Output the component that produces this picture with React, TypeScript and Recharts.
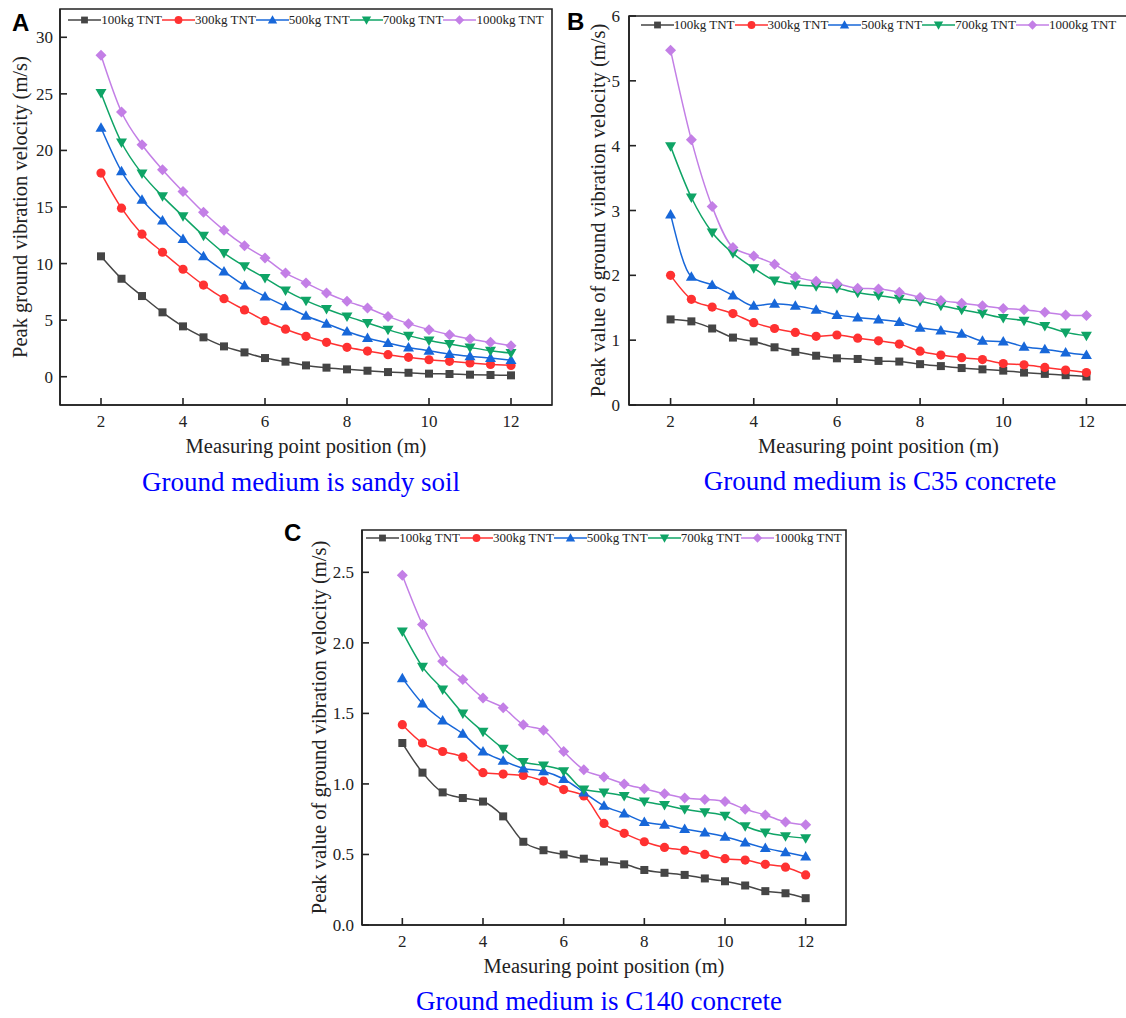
import React from "react";
import { LineChart, Line, XAxis, YAxis, Legend, ReferenceArea } from "recharts";

// measuring point positions (m)
const positions = [2, 2.5, 3, 3.5, 4, 4.5, 5, 5.5, 6, 6.5, 7, 7.5, 8, 8.5, 9, 9.5, 10, 10.5, 11, 11.5, 12];
const charges = ["100kg TNT", "300kg TNT", "500kg TNT", "700kg TNT", "1000kg TNT"];
const colors = ["#454545", "#ff3131", "#1767d9", "#0fa466", "#c37fe6"];
const shapes = ["square", "circle", "up", "down", "diamond"];
const xTicks = [2, 4, 6, 8, 10, 12];

// A: sandy soil
const sand100 = [10.64, 8.66, 7.13, 5.69, 4.45, 3.48, 2.68, 2.15, 1.65, 1.33, 1.0, 0.8, 0.65, 0.53, 0.41, 0.35, 0.27, 0.24, 0.18, 0.15, 0.12];
const sand300 = [18.0, 14.9, 12.6, 11.0, 9.5, 8.1, 6.9, 5.9, 4.95, 4.2, 3.57, 3.04, 2.6, 2.27, 1.95, 1.71, 1.5, 1.36, 1.21, 1.09, 1.0];
const sand500 = [22.0, 18.15, 15.65, 13.8, 12.17, 10.64, 9.31, 8.07, 7.1, 6.22, 5.39, 4.69, 4.0, 3.42, 2.98, 2.59, 2.3, 2.0, 1.8, 1.65, 1.47];
const sand700 = [25.08, 20.7, 17.95, 15.94, 14.18, 12.47, 10.93, 9.76, 8.72, 7.63, 6.72, 5.98, 5.33, 4.75, 4.16, 3.63, 3.21, 2.89, 2.59, 2.3, 2.09];
const sand1000 = [28.41, 23.4, 20.5, 18.3, 16.36, 14.53, 12.94, 11.58, 10.49, 9.17, 8.28, 7.4, 6.66, 6.07, 5.33, 4.69, 4.16, 3.71, 3.33, 3.04, 2.74];

// B: C35 concrete
const c35_100 = [1.32, 1.29, 1.18, 1.04, 0.98, 0.89, 0.82, 0.76, 0.72, 0.71, 0.68, 0.67, 0.63, 0.6, 0.57, 0.55, 0.53, 0.5, 0.48, 0.46, 0.44];
const c35_300 = [2.0, 1.63, 1.51, 1.41, 1.27, 1.18, 1.12, 1.06, 1.08, 1.03, 0.99, 0.94, 0.83, 0.77, 0.73, 0.7, 0.64, 0.62, 0.58, 0.54, 0.5];
const c35_500 = [2.94, 1.98, 1.85, 1.69, 1.53, 1.56, 1.53, 1.47, 1.39, 1.35, 1.32, 1.28, 1.19, 1.15, 1.1, 0.99, 0.98, 0.9, 0.86, 0.81, 0.77];
const c35_700 = [3.99, 3.2, 2.66, 2.34, 2.11, 1.92, 1.86, 1.83, 1.8, 1.73, 1.69, 1.64, 1.6, 1.53, 1.47, 1.41, 1.34, 1.3, 1.22, 1.12, 1.07];
const c35_1000 = [5.47, 4.09, 3.06, 2.43, 2.3, 2.17, 1.98, 1.91, 1.87, 1.8, 1.79, 1.74, 1.66, 1.61, 1.57, 1.53, 1.49, 1.47, 1.43, 1.39, 1.38];

// C: C140 concrete
const c140_100 = [1.29, 1.08, 0.94, 0.9, 0.875, 0.77, 0.59, 0.53, 0.5, 0.47, 0.45, 0.43, 0.39, 0.37, 0.355, 0.33, 0.31, 0.28, 0.24, 0.225, 0.19];
const c140_300 = [1.42, 1.29, 1.23, 1.19, 1.08, 1.07, 1.06, 1.02, 0.96, 0.915, 0.72, 0.65, 0.59, 0.55, 0.53, 0.5, 0.47, 0.46, 0.43, 0.41, 0.355];
const c140_500 = [1.75, 1.57, 1.45, 1.355, 1.23, 1.165, 1.11, 1.09, 1.035, 0.94, 0.845, 0.79, 0.73, 0.71, 0.68, 0.655, 0.625, 0.585, 0.545, 0.515, 0.485];
const c140_700 = [2.08, 1.83, 1.67, 1.5, 1.37, 1.25, 1.155, 1.13, 1.09, 0.96, 0.94, 0.915, 0.875, 0.85, 0.82, 0.8, 0.775, 0.7, 0.655, 0.63, 0.615];
const c140_1000 = [2.48, 2.13, 1.87, 1.74, 1.61, 1.54, 1.42, 1.38, 1.23, 1.1, 1.05, 1.0, 0.965, 0.93, 0.9, 0.89, 0.875, 0.82, 0.78, 0.73, 0.71];

const SERIF = '"Liberation Serif", "Times New Roman", serif';
const INK = "#222";

const toRows = (series: number[][]) =>
  positions.map((x, i) => {
    const row: Record<string, number> = { x };
    series.forEach((s, k) => (row["s" + k] = s[i]));
    return row;
  });

function Marker({ shape, cx, cy, color, s = 1 }: any) {
  if (cx == null || cy == null) return null;
  const h = 5.5 * s;
  switch (shape) {
    case "square":
      return <rect x={cx - 4 * s} y={cy - 4 * s} width={8 * s} height={8 * s} fill={color} />;
    case "circle":
      return <circle cx={cx} cy={cy} r={4.6 * s} fill={color} />;
    case "up":
      return <polygon points={`${cx},${cy - h} ${cx + h},${cy + 4 * s} ${cx - h},${cy + 4 * s}`} fill={color} />;
    case "down":
      return <polygon points={`${cx - h},${cy - 4 * s} ${cx + h},${cy - 4 * s} ${cx},${cy + h}`} fill={color} />;
    default:
      return <polygon points={`${cx},${cy - h} ${cx + h},${cy} ${cx},${cy + h} ${cx - h},${cy}`} fill={color} />;
  }
}

function LegendRow() {
  return (
    <div style={{ display: "flex", justifyContent: "center", alignItems: "center", height: 16 }}>
      {charges.map((name, k) => (
        <div key={name} style={{ display: "flex", alignItems: "center" }}>
          <svg width={33} height={16}>
            <line x1={0} y1={8} x2={33} y2={8} stroke={colors[k]} strokeWidth={1.5} />
            <Marker shape={shapes[k]} cx={16.5} cy={8} color={colors[k]} s={0.85} />
          </svg>
          <span style={{ fontFamily: SERIF, fontSize: 13, color: INK, whiteSpace: "nowrap" }}>{name}</span>
        </div>
      ))}
    </div>
  );
}

const XTick = (props: any) => (
  <text x={props.x} y={props.y} dy={12} textAnchor="middle" fill={INK} fontSize={17} fontFamily={SERIF}>
    {props.payload.value}
  </text>
);

const makeYTick = (fmt?: (v: number) => string) => (props: any) => (
  <text x={props.x} y={props.y} dy={6} textAnchor="end" fill={INK} fontSize={17} fontFamily={SERIF}>
    {fmt ? fmt(props.payload.value) : props.payload.value}
  </text>
);

interface PanelProps {
  left: number;
  top: number;
  width: number;
  height: number;
  margin: { top: number; right: number; bottom: number; left: number };
  yWidth: number;
  yDomain: [number, number];
  yTicks: number[];
  yFmt?: (v: number) => string;
  yLabel: string;
  yLabelOffset: number;
  yTickMargin: number;
  legendTop: number;
  series: number[][];
}

function Panel(p: PanelProps) {
  const rows = toRows(p.series);
  const plotW = p.width - p.margin.left - p.margin.right - p.yWidth;
  const axisLine = { stroke: INK, strokeWidth: 1.6 };
  return (
    <div style={{ position: "absolute", left: p.left, top: p.top }}>
      <LineChart width={p.width} height={p.height} data={rows} margin={p.margin}>
        <XAxis
          dataKey="x"
          type="number"
          domain={[1, 13]}
          ticks={xTicks}
          height={55}
          axisLine={axisLine}
          tickLine={axisLine}
          tickSize={-7}
          tickMargin={17}
          tick={XTick}
          label={{
            value: "Measuring point position (m)",
            position: "insideBottom",
            offset: 7.5,
            fill: INK,
            fontSize: 20.5,
            fontFamily: SERIF,
          }}
        />
        <YAxis
          type="number"
          domain={p.yDomain}
          ticks={p.yTicks}
          allowDataOverflow
          width={p.yWidth}
          axisLine={axisLine}
          tickLine={axisLine}
          tickSize={-7}
          tickMargin={p.yTickMargin}
          tick={makeYTick(p.yFmt)}
          label={{
            value: p.yLabel,
            angle: -90,
            position: "insideLeft",
            offset: p.yLabelOffset,
            fill: INK,
            fontSize: 20.5,
            fontFamily: SERIF,
            style: { textAnchor: "middle" },
          }}
        />
        {/* frame around the plot area */}
        <ReferenceArea
          x1={1}
          x2={13}
          y1={p.yDomain[0]}
          y2={p.yDomain[1]}
          fill="none"
          fillOpacity={0}
          stroke={INK}
          strokeWidth={1.6}
          ifOverflow="visible"
        />
        <Legend
          verticalAlign="middle"
          align="center"
          layout="horizontal"
          wrapperStyle={{ top: p.legendTop, left: p.margin.left + p.yWidth, width: plotW }}
          content={() => <LegendRow />}
        />
        {p.series.map((_, k) => (
          <Line
            key={charges[k]}
            name={charges[k]}
            dataKey={"s" + k}
            type="monotone"
            stroke={colors[k]}
            strokeWidth={1.5}
            isAnimationActive={false}
            activeDot={false}
            dot={(d: any) => (
              <Marker key={"m" + k + "-" + d.index} shape={shapes[k]} cx={d.cx} cy={d.cy} color={colors[k]} />
            )}
          />
        ))}
      </LineChart>
    </div>
  );
}

const captionStyle: React.CSSProperties = {
  fontFamily: SERIF,
  fontSize: 27,
  fill: "#0000ff",
};
const letterStyle: React.CSSProperties = {
  fontFamily: '"Liberation Sans", Arial, sans-serif',
  fontSize: 24,
  fontWeight: 700,
  fill: "#000",
};

export default function App() {
  return (
    <div
      style={{
        position: "absolute",
        left: 0,
        top: 0,
        width: 1126,
        height: 1018,
        overflow: "hidden",
        background: "#fff",
      }}
    >
      <Panel
        left={0}
        top={0}
        width={560}
        height={460}
        margin={{ top: 9, right: 8, bottom: 0, left: 0 }}
        yWidth={60}
        yDomain={[-2.5, 32.5]}
        yTicks={[0, 5, 10, 15, 20, 25, 30]}
        yLabel="Peak ground vibration velocity (m/s)"
        yLabelOffset={20}
        yTickMargin={14}
        legendTop={12}
        series={[sand100, sand300, sand500, sand700, sand1000]}
      />
      <Panel
        left={560}
        top={0}
        width={580}
        height={460}
        margin={{ top: 16, right: 12, bottom: 0, left: 0 }}
        yWidth={69}
        yDomain={[0, 6]}
        yTicks={[0, 1, 2, 3, 4, 5, 6]}
        yLabel="Peak value of ground vibration velocity (m/s)"
        yLabelOffset={38}
        yTickMargin={16}
        legendTop={17}
        series={[c35_100, c35_300, c35_500, c35_700, c35_1000]}
      />
      <Panel
        left={280}
        top={500}
        width={580}
        height={480}
        margin={{ top: 30, right: 14, bottom: 0, left: 0 }}
        yWidth={82}
        yDomain={[0, 2.8]}
        yTicks={[0, 0.5, 1, 1.5, 2, 2.5]}
        yFmt={(v) => v.toFixed(1)}
        yLabel="Peak value of ground vibration velocity (m/s)"
        yLabelOffset={39}
        yTickMargin={15}
        legendTop={30}
        series={[c140_100, c140_300, c140_500, c140_700, c140_1000]}
      />
      <svg
        width={1126}
        height={1018}
        style={{ position: "absolute", left: 0, top: 0, pointerEvents: "none" }}
      >
        <text x={12} y={30.5} style={letterStyle}>A</text>
        <text x={567} y={30} style={letterStyle}>B</text>
        <text x={284} y={541} style={letterStyle}>C</text>
        <text x={301} y={491} textAnchor="middle" style={captionStyle}>Ground medium is sandy soil</text>
        <text x={880} y={490} textAnchor="middle" style={captionStyle}>Ground medium is C35 concrete</text>
        <text x={599} y={1010} textAnchor="middle" style={captionStyle}>Ground medium is C140 concrete</text>
      </svg>
    </div>
  );
}
